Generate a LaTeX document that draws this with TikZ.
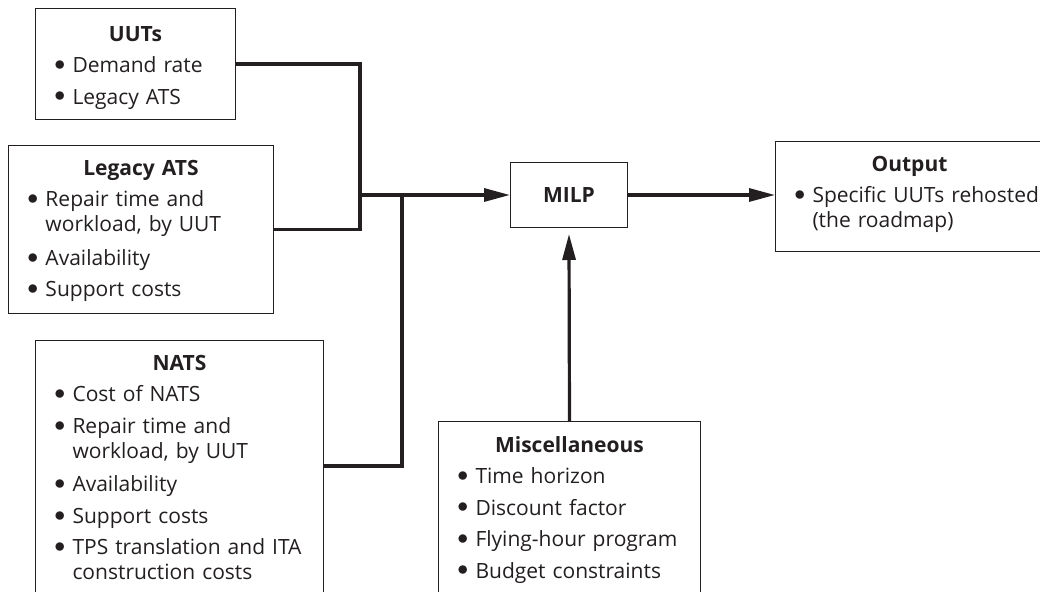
\documentclass[tikz,border=0pt]{standalone}
\usepackage{fontspec}
\setmainfont{Open Sans}
\usetikzlibrary{arrows.meta,positioning}
\definecolor{ink}{RGB}{35,31,32}
\newcommand{\ttl}[1]{\noindent{\centering\bfseries #1\par}}
\newcommand{\itm}[1]{\par\noindent\makebox[8.5pt][l]{\hspace{-0.6pt}\raisebox{1.1pt}{$\bullet$}}\begin{tabular}[t]{@{}l@{}}#1\end{tabular}\par}
\begin{document}
\begin{tikzpicture}[x=0.5pt,y=-0.5pt,color=ink,
  box/.style={draw=ink,line width=0.5pt,inner sep=0pt,anchor=north west},
  txt/.style={anchor=north,inner sep=0pt,align=left,yshift=-7.4pt,
    font=\fontsize{10.5}{12.5}\selectfont\setlength{\parskip}{3.25pt}},
  wire/.style={line width=1.6pt,draw=ink},
  arr/.style={wire,-{Triangle[length=13pt,width=6.5pt]}}]
\useasboundingbox (0,0) rectangle (1040,592);
\clip (0,0) rectangle (1040,592);
\node[box,minimum width=100pt,minimum height=55.5pt] (uut) at (35,8) {};
\node[txt,text width=80pt,yshift=-1.5pt] (uuttxt) at (uut.north)
  {\ttl{UUTs}\itm{Demand rate}\itm{Legacy ATS}};
\node[box,minimum width=132.5pt,minimum height=84pt] (lats) at (8,145) {};
\node[txt,text width=112.5pt] (latstxt) at (lats.north)
  {\ttl{Legacy ATS}\itm{Repair time and\\ workload, by UUT}\itm{Availability}\itm{Support costs}};
\node[box,minimum width=144pt,minimum height=160pt] (nats) at (35,340) {};
\node[txt,text width=124pt] (natstxt) at (nats.north)
  {\ttl{NATS}\itm{Cost of NATS}\itm{Repair time and\\ workload, by UUT}\itm{Availability}\itm{Support costs}\itm{TPS translation and ITA\\ construction costs}};
\node[box,minimum width=131pt,minimum height=100pt] (misc) at (438,421) {};
\node[txt,text width=111pt] (misctxt) at (misc.north)
  {\ttl{Miscellaneous}\itm{Time horizon}\itm{Discount factor}\itm{Flying-hour program}\itm{Budget constraints}};
\node[box,minimum width=58.5pt,minimum height=32.5pt,font=\fontsize{10.5}{12.5}\selectfont\bfseries] (milp) at (510,162) {MILP};
\node[box,minimum width=134pt,minimum height=55pt] (out) at (775,141) {};
\node[txt,text width=114pt] (outtxt) at (out.north)
  {\ttl{Output}\itm{Specific UUTs rehosted\\ (the roadmap)}};
\coordinate (ja) at (360,0 |- milp.west);
\coordinate (jb) at (402,0 |- milp.west);
\draw[wire] (uut.east) -| (ja) |- (lats.east);
\draw[arr] (ja) -- (milp.west);
\draw[wire] (nats.north east) ++(0,126) -| (jb);
\draw[arr] (milp.east) -- (milp.east -| out.west);
\draw[arr] (misc.north) -- ([yshift=-3pt]milp.south);
\end{tikzpicture}
\end{document}
